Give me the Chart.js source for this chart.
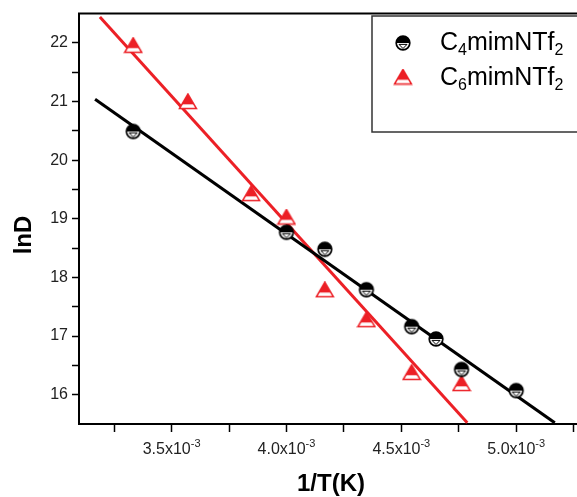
<!DOCTYPE html>
<html>
<head>
<meta charset="utf-8">
<script src="https://cdn.jsdelivr.net/npm/chart.js@4/dist/chart.umd.min.js"></script>
<style>
  html, body { margin: 0; padding: 0; background: #fff; overflow: hidden; }
</style>
</head>
<body>
<canvas id="chart" width="583" height="497"></canvas>
<script>
// ---------------- data (x in 1/K) ----------------
const c4X = [3.333e-3, 4.000e-3, 4.167e-3, 4.348e-3, 4.545e-3, 4.651e-3, 4.762e-3, 5.000e-3];
const c4Y = [20.49, 18.77, 18.48, 17.79, 17.16, 16.95, 16.43, 16.07];
const c6X = [3.333e-3, 3.571e-3, 3.846e-3, 4.000e-3, 4.167e-3, 4.348e-3, 4.545e-3, 4.762e-3];
const c6Y = [21.96, 21.00, 19.43, 19.03, 17.79, 17.28, 16.38, 16.19];

// fitted lines, end points
const c4FitX = [3.167e-3, 5.168e-3];
const c4FitY = [21.04, 15.52];
const c6FitX = [3.188e-3, 4.787e-3];
const c6FitY = [22.44, 15.52];

const seriesNames = [['C', '4', 'mimNTf', '2'], ['C', '6', 'mimNTf', '2']];

const xMajorTicks = [3.5e-3, 4.0e-3, 4.5e-3, 5.0e-3];
const xMinorTicks = [3.25e-3, 3.75e-3, 4.25e-3, 4.75e-3, 5.25e-3];
const xTickLabels = ['3.5x10', '4.0x10', '4.5x10', '5.0x10'];
const xTickExp = '-3';
const yMajorTicks = [16, 17, 18, 19, 20, 21, 22];
const yMinorTicks = [16.5, 17.5, 18.5, 19.5, 20.5, 21.5];

const RED = 'rgb(236,32,38)';
const FONT = "'Liberation Sans', Arial, sans-serif";

// ---------------- marker images ----------------
function halfCircle() {
    const c = document.createElement('canvas');
    c.width = 18; c.height = 18;
    const g = c.getContext('2d');
    const r = 6.8;
    g.fillStyle = '#fff';
    g.beginPath(); g.arc(9, 9, r, 0, Math.PI * 2); g.fill();
    g.fillStyle = '#000';
    g.beginPath(); g.arc(9, 9, r, Math.PI, 0); g.closePath(); g.fill();
    g.strokeStyle = '#000';
    g.lineWidth = 1;
    g.beginPath(); g.moveTo(5, 10.4); g.lineTo(13, 10.4); g.lineTo(9, 14.5); g.closePath(); g.stroke();
    g.lineWidth = 1.7;
    g.beginPath(); g.arc(9, 9, r, 0, Math.PI * 2); g.stroke();
    return c;
}

function halfTriangle() {
    const c = document.createElement('canvas');
    c.width = 20; c.height = 17;
    const g = c.getContext('2d');
    const path = () => { g.beginPath(); g.moveTo(10, 1); g.lineTo(1.5, 15.5); g.lineTo(18.5, 15.5); g.closePath(); };
    path(); g.fillStyle = '#fff'; g.fill();
    g.save(); path(); g.clip();
    g.fillStyle = RED; g.fillRect(0, 0, 20, 11.3);
    g.restore();
    path(); g.strokeStyle = RED; g.lineWidth = 1.5; g.stroke();
    return c;
}

const circleMark = halfCircle();
const triMark = halfTriangle();

const pts = (xs, ys) => xs.map((x, i) => ({ x: x, y: ys[i] }));

// ---------------- extra drawing: frame, x labels, titles, legend ----------------
const extras = {
    id: 'extras',
    afterDraw(chart) {
        const g = chart.ctx;
        const area = chart.chartArea;
        const xs = chart.scales.x;
        g.save();

        // top frame line
        g.strokeStyle = '#000';
        g.lineWidth = 2;
        g.beginPath(); g.moveTo(area.left - 1, area.top); g.lineTo(chart.width, area.top); g.stroke();

        // x tick labels with superscript
        g.fillStyle = '#222';
        g.textBaseline = 'alphabetic';
        g.textAlign = 'left';
        xMajorTicks.forEach((v, i) => {
            const px = xs.getPixelForValue(v);
            g.font = '16px ' + FONT;
            const w1 = g.measureText(xTickLabels[i]).width;
            g.font = '11px ' + FONT;
            const w2 = g.measureText(xTickExp).width;
            const x0 = px - (w1 + w2) / 2;
            g.font = '16px ' + FONT;
            g.fillText(xTickLabels[i], x0, 454);
            g.font = '11px ' + FONT;
            g.fillText(xTickExp, x0 + w1, 447);
        });

        // axis titles
        g.fillStyle = '#000';
        g.font = 'bold 24px ' + FONT;
        g.textAlign = 'center';
        g.fillText('1/T(K)', 331, 491);
        g.save();
        g.translate(31, 235);
        g.rotate(-Math.PI / 2);
        g.fillText('lnD', 0, 0);
        g.restore();

        // legend box
        g.fillStyle = '#fff';
        g.fillRect(372, 16, 240, 116);
        g.strokeStyle = '#333';
        g.lineWidth = 1.5;
        g.strokeRect(372, 16, 240, 116);

        const marks = [circleMark, triMark];
        const rows = [43, 77];
        const bases = [50, 85];
        rows.forEach((cy, i) => {
            const m = marks[i];
            g.drawImage(m, 403 - m.width / 2, cy - m.height / 2);
            const parts = seriesNames[i];
            let x = 440;
            g.fillStyle = '#000';
            g.textAlign = 'left';
            parts.forEach((p, k) => {
                const sub = k % 2 === 1;
                g.font = (sub ? '16px ' : '25px ') + FONT;
                g.fillText(p, x, bases[i] + (sub ? 5 : 0));
                x += g.measureText(p).width;
            });
        });

        g.restore();
    }
};

new Chart(document.getElementById('chart'), {
    type: 'scatter',
    data: {
        datasets: [{
            label: 'C4mimNTf2',
            data: pts(c4X, c4Y),
            pointStyle: circleMark,
            order: 0
        }, {
            label: 'C6mimNTf2',
            data: pts(c6X, c6Y),
            pointStyle: triMark,
            order: 0
        }, {
            label: 'C4 fit',
            data: pts(c4FitX, c4FitY),
            showLine: true,
            borderColor: '#000',
            borderWidth: 3,
            pointRadius: 0,
            order: 1
        }, {
            label: 'C6 fit',
            data: pts(c6FitX, c6FitY),
            showLine: true,
            borderColor: RED,
            borderWidth: 3,
            pointRadius: 0,
            order: 1
        }]
    },
    options: {
        responsive: false,
        animation: false,
        layout: { padding: { top: 12, left: 0, right: 0, bottom: 0 } },
        plugins: {
            legend: { display: false },
            tooltip: { enabled: false }
        },
        scales: {
            x: {
                type: 'linear',
                min: 3.097e-3,
                max: 5.269e-3,
                afterBuildTicks: (s) => {
                    s.ticks = xMajorTicks.concat(xMinorTicks).sort((a, b) => a - b).map(v => ({ value: v }));
                },
                afterFit: (s) => { s.height = 73; },
                ticks: { callback: () => '' },
                grid: { drawOnChartArea: false, tickLength: 8, tickWidth: 1.5, tickColor: '#000' },
                border: { color: '#000', width: 2 }
            },
            y: {
                type: 'linear',
                min: 15.5,
                max: 22.5,
                afterBuildTicks: (s) => {
                    s.ticks = yMajorTicks.concat(yMinorTicks).sort((a, b) => a - b).map(v => ({ value: v }));
                },
                afterFit: (s) => { s.width = 79; },
                ticks: {
                    padding: 4,
                    color: '#222',
                    font: { family: FONT, size: 16 },
                    callback: (v) => Number.isInteger(v) ? String(v) : ''
                },
                grid: { drawOnChartArea: false, tickLength: 7, tickWidth: 1.5, tickColor: '#000' },
                border: { color: '#000', width: 2 }
            }
        }
    },
    plugins: [extras]
});
</script>
</body>
</html>
